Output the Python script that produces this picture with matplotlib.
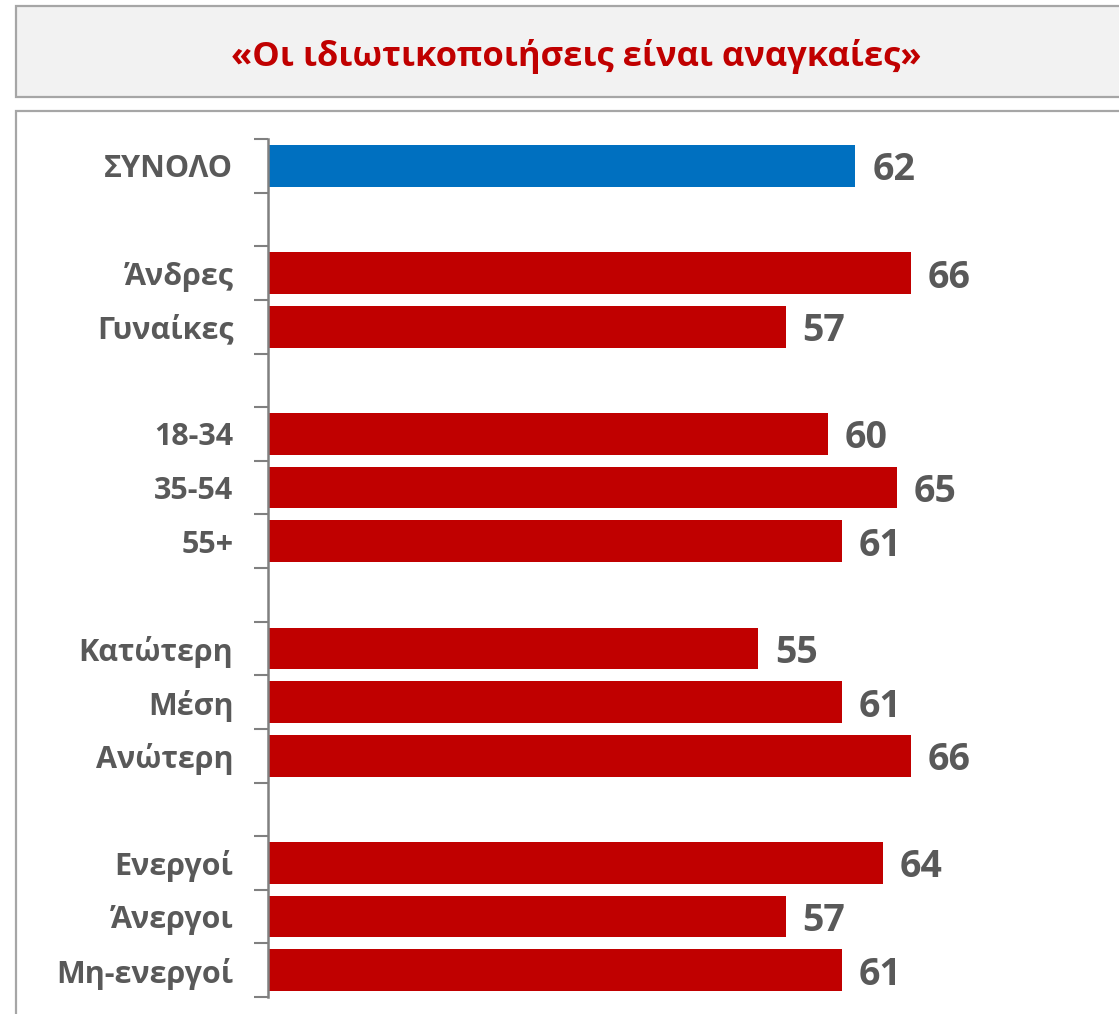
import matplotlib.pyplot as plt
from matplotlib.patches import Rectangle

# rows top to bottom, "" = empty spacer slot
labels = ["ΣΥΝΟΛΟ", "", "Άνδρες", "Γυναίκες", "", "18-34", "35-54", "55+", "",
          "Κατώτερη", "Μέση", "Ανώτερη", "", "Ενεργοί", "Άνεργοι", "Μη-ενεργοί"]
values = [62, None, 66, 57, None, 60, 65, 61, None, 55, 61, 66, None, 64, 57, 61]
title = "«Οι ιδιωτικοποιήσεις είναι αναγκαίες»"

RED = "#C00000"
BLUE = "#0070C0"
GREY = "#595959"
FONT = "Open Sans"

W, H = 1119, 1014
fig = plt.figure(figsize=(W / 100, H / 100), dpi=100)

# title box and chart panel (pixel coords converted to figure fractions)
def px_rect(x0, y0, x1, y1, **kw):
    r = Rectangle((x0 / W, 1 - y1 / H), (x1 - x0) / W, (y1 - y0) / H,
                  transform=fig.transFigure, zorder=-1, **kw)
    fig.patches.append(r)

px_rect(16, 6, 1130, 97, facecolor="#F2F2F2", edgecolor="#A6A6A6", lw=1.6)
px_rect(16, 111, 1130, 1030, facecolor="white", edgecolor="#A6A6A6", lw=1.6)
fig.text(576 / W, 1 - 56 / H, title, color=RED, fontsize=24.8, fontweight="bold",
         family=FONT, ha="center", va="center")

# axes: left spine at x=268px, rows from 139px to 997px
ax = fig.add_axes([268 / W, 1 - 997 / H, 838 / W, 858 / H])
n = len(labels)
ypos = list(range(n))
for y, v in zip(ypos, values):
    if v is None:
        continue
    c = BLUE if y == 0 else RED
    ax.barh(y, v - 19.8, left=19.8, height=0.78, color=c)
    ax.text(v + 1.2, y, str(v), color=GREY, fontsize=27, fontweight="bold",
            family=FONT, va="center_baseline", ha="left")

ax.set_xlim(19.8, 80)
ax.set_ylim(n - 0.5, -0.5)
ax.set_yticks(ypos)
ax.set_yticklabels(labels, color=GREY, fontsize=22, fontweight="bold", family=FONT)
ax.set_yticks([i - 0.5 for i in range(n + 1)], minor=True)
ax.tick_params(axis="y", which="major", length=0, pad=25)
ax.tick_params(axis="y", which="minor", length=10, width=1.5, color="#808080")
ax.set_xticks([])
for s in ["top", "right", "bottom"]:
    ax.spines[s].set_visible(False)
ax.spines["left"].set_color("#808080")
ax.spines["left"].set_linewidth(1.8)
ax.patch.set_alpha(0)

fig.savefig("out.png", dpi=100)
